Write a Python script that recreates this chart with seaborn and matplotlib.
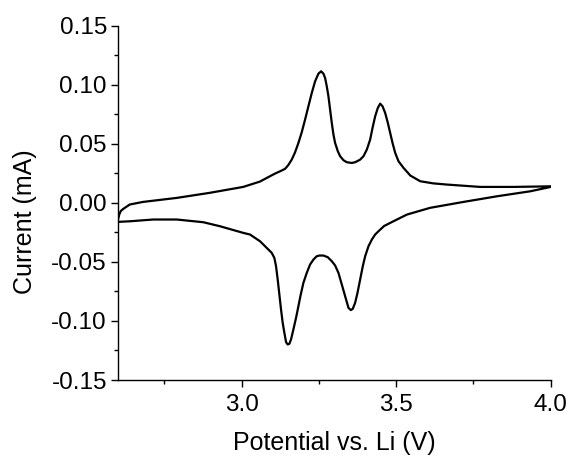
import numpy as np
import pandas as pd
import matplotlib
matplotlib.use("Agg")
import matplotlib.pyplot as plt
from matplotlib.ticker import MultipleLocator
import seaborn as sns

# Anodic (forward) scan, 2.6 V -> 4.0 V
potential_fwd = [2.600, 2.604, 2.609, 2.617, 2.638, 2.681, 2.790, 2.897, 3.005, 3.059,
                 3.108, 3.125, 3.1405, 3.1513, 3.1621, 3.1729, 3.1837, 3.1945, 3.2053, 3.2161,
                 3.2269, 3.2377, 3.2485, 3.2572, 3.2647, 3.2701, 3.2755, 3.2809, 3.2863, 3.2917,
                 3.2971, 3.3025, 3.3112, 3.3187, 3.3295, 3.3403, 3.3565, 3.3673, 3.3835, 3.3943,
                 3.4051, 3.4159, 3.4235, 3.4321, 3.4407, 3.4483, 3.4559, 3.4645, 3.4731, 3.4807,
                 3.4883, 3.4969, 3.5077, 3.5239, 3.546, 3.578, 3.620, 3.664, 3.772, 3.880, 4.000]
current_fwd = [-0.0141, -0.0099, -0.0069, -0.0051, -0.0014, 0.0008, 0.0042, 0.0085, 0.0135, 0.0180,
               0.0248, 0.0268, 0.0288, 0.0321, 0.0366, 0.0428, 0.0507, 0.0598, 0.0705, 0.0818,
               0.0930, 0.1029, 0.1094, 0.1114, 0.1094, 0.1057, 0.0987, 0.0902, 0.0789, 0.0677,
               0.0578, 0.0507, 0.0437, 0.0395, 0.0361, 0.0344, 0.0338, 0.0344, 0.0366, 0.0395,
               0.0451, 0.0536, 0.0634, 0.0733, 0.0804, 0.0840, 0.0818, 0.0761, 0.0677, 0.0592,
               0.0507, 0.0423, 0.0352, 0.0296, 0.0231, 0.0183, 0.0165, 0.0155, 0.0135, 0.0135, 0.0140]

# Cathodic (reverse) scan, 4.0 V -> 2.6 V
potential_rev = [4.000, 3.934, 3.827, 3.718, 3.610, 3.535, 3.491, 3.461, 3.4429, 3.4321,
                 3.4213, 3.4105, 3.3997, 3.3921, 3.3835, 3.3749, 3.3673, 3.3597, 3.3533, 3.3457,
                 3.3349, 3.3241, 3.3133, 3.3025, 3.2917, 3.2787, 3.2647, 3.2517, 3.2431, 3.2323,
                 3.2215, 3.2107, 3.1999, 3.1913, 3.1837, 3.1761, 3.1675, 3.1599, 3.1545, 3.1491,
                 3.1437, 3.1383, 3.1329, 3.1275, 3.1221, 3.1167, 3.1113, 3.1059, 3.0973, 3.0811,
                 3.0595, 3.027, 3.005, 2.930, 2.876, 2.790, 2.714, 2.638, 2.600]
current_rev = [0.0135, 0.0098, 0.0056, 0.0008, -0.0042, -0.0099, -0.0156, -0.0196, -0.0240, -0.0268,
               -0.0311, -0.0367, -0.0452, -0.0536, -0.0649, -0.0762, -0.0846, -0.0897, -0.0908, -0.0889,
               -0.0790, -0.0691, -0.0593, -0.0530, -0.0494, -0.0460, -0.0446, -0.0446, -0.0452, -0.0480,
               -0.0522, -0.0593, -0.0677, -0.0776, -0.0875, -0.0973, -0.1072, -0.1156, -0.1193, -0.1199,
               -0.1179, -0.1100, -0.1016, -0.0903, -0.0776, -0.0649, -0.0536, -0.0466, -0.0423, -0.0381,
               -0.0325, -0.0268, -0.0254, -0.0198, -0.0164, -0.0141, -0.0141, -0.0156, -0.0161]

cv = pd.DataFrame({
    "Potential": potential_fwd + potential_rev,
    "Current": current_fwd + current_rev,
})

sns.set_theme(style="ticks")
plt.rcParams["font.family"] = ["Liberation Sans", "DejaVu Sans"]

fig = plt.figure(figsize=(5.69, 4.55), dpi=100)
ax = fig.add_axes([0.2074, 0.1648, 0.7604, 0.7787])

sns.lineplot(data=cv, x="Potential", y="Current", sort=False, estimator=None,
             color="black", linewidth=1.6, ax=ax)

ax.set_xlim(2.6, 4.0)
ax.set_ylim(-0.15, 0.15)
ax.xaxis.set_major_locator(MultipleLocator(0.5))
ax.xaxis.set_minor_locator(MultipleLocator(0.25))
ax.yaxis.set_major_locator(MultipleLocator(0.05))
ax.yaxis.set_minor_locator(MultipleLocator(0.025))
ax.xaxis.set_major_formatter(plt.FuncFormatter(lambda v, p: f"{v:.1f}"))
ax.yaxis.set_major_formatter(plt.FuncFormatter(lambda v, p: f"{v:.2f}"))

for side in ("top", "right"):
    ax.spines[side].set_visible(False)
for side in ("left", "bottom"):
    ax.spines[side].set_linewidth(1.0)
    ax.spines[side].set_color("black")

ax.tick_params(which="major", direction="out", length=5, width=1.0, colors="black",
               labelsize=17.5, pad=3)
ax.tick_params(axis="x", which="major", pad=5)
ax.tick_params(which="minor", direction="out", length=3, width=1.0, colors="black")

ax.set_xlabel("Potential vs. Li (V)", fontsize=18, color="black", labelpad=11)
ax.set_ylabel("Current (mA)", fontsize=18, color="black")
ax.yaxis.set_label_coords(-0.187, 0.446)

fig.savefig("out.png", dpi=100, facecolor="white")
